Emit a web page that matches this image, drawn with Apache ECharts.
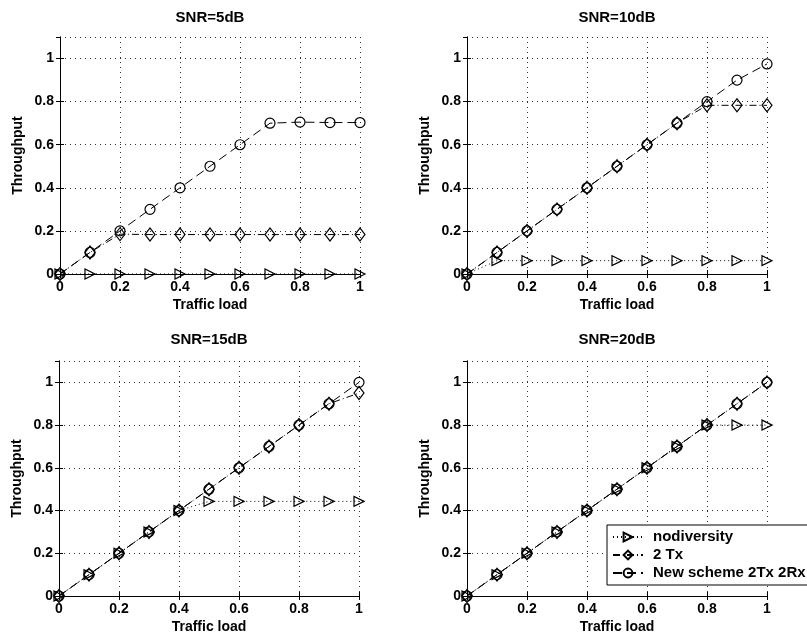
<!DOCTYPE html>
<html>
<head>
<meta charset="utf-8">
<script src="https://cdn.jsdelivr.net/npm/echarts@6/dist/echarts.min.js"></script>
<style>
  html, body { margin: 0; padding: 0; background: #fff; }
  #chart { width: 807px; height: 637px; }
</style>
</head>
<body>
<div id="chart"></div>
<script>
// Offered traffic load (x axis of every panel)
const loads = [0, 0.1, 0.2, 0.3, 0.4, 0.5, 0.6, 0.7, 0.8, 0.9, 1.0];

// Panel titles
const panelTitles = ['SNR=5dB', 'SNR=10dB', 'SNR=15dB', 'SNR=20dB'];

// Series names
const seriesNames = ['nodiversity', '2 Tx', 'New scheme 2Tx 2Rx'];

// Throughput, SNR = 5 dB
const snr5NoDiv = [0, 0, 0, 0, 0, 0, 0, 0, 0, 0, 0];
const snr5TwoTx = [0, 0.1, 0.185, 0.183, 0.183, 0.183, 0.183, 0.183, 0.183, 0.183, 0.183];
const snr5New   = [0, 0.1, 0.2, 0.3, 0.4, 0.5, 0.6, 0.7, 0.705, 0.703, 0.703];

// Throughput, SNR = 10 dB
const snr10NoDiv = [0, 0.062, 0.062, 0.062, 0.062, 0.062, 0.062, 0.062, 0.062, 0.062, 0.062];
const snr10TwoTx = [0, 0.1, 0.2, 0.3, 0.4, 0.5, 0.6, 0.7, 0.783, 0.783, 0.783];
const snr10New   = [0, 0.1, 0.2, 0.3, 0.4, 0.5, 0.6, 0.7, 0.8, 0.9, 0.975];

// Throughput, SNR = 15 dB
const snr15NoDiv = [0, 0.1, 0.2, 0.3, 0.4, 0.443, 0.443, 0.443, 0.443, 0.443, 0.443];
const snr15TwoTx = [0, 0.1, 0.2, 0.3, 0.4, 0.5, 0.6, 0.7, 0.8, 0.9, 0.95];
const snr15New   = [0, 0.1, 0.2, 0.3, 0.4, 0.5, 0.6, 0.7, 0.8, 0.9, 1.0];

// Throughput, SNR = 20 dB
const snr20NoDiv = [0, 0.1, 0.2, 0.3, 0.4, 0.5, 0.6, 0.7, 0.8, 0.8, 0.8];
const snr20TwoTx = [0, 0.1, 0.2, 0.3, 0.4, 0.5, 0.6, 0.7, 0.8, 0.9, 1.0];
const snr20New   = [0, 0.1, 0.2, 0.3, 0.4, 0.5, 0.6, 0.7, 0.8, 0.9, 1.0];

const panelData = [
  [snr5NoDiv, snr5TwoTx, snr5New],
  [snr10NoDiv, snr10TwoTx, snr10New],
  [snr15NoDiv, snr15TwoTx, snr15New],
  [snr20NoDiv, snr20TwoTx, snr20New]
];

const FONT = '"Liberation Sans", Arial, Helvetica, sans-serif';

// Plot-area rectangles of the 2x2 layout
const grids = [
  { left: 60,  top: 37,  width: 300, height: 237 },
  { left: 467, top: 37,  width: 300, height: 237 },
  { left: 59,  top: 361, width: 300, height: 235 },
  { left: 467, top: 361, width: 300, height: 235 }
];
const titleTops = [10, 10, 332, 332];

const lineBlack = { color: '#000', width: 1 };
const gridDots = { color: '#000', width: 1, type: [1, 4], opacity: 0.8 };
const tickInside = { show: true, inside: true, length: 4, lineStyle: lineBlack };

const xAxes = [], yAxes = [], titles = [], series = [];

grids.forEach((g, i) => {
  titles.push({
    text: panelTitles[i],
    left: g.left + g.width / 2,
    top: titleTops[i],
    padding: 0,
    textAlign: 'center',
    textStyle: { fontFamily: FONT, fontSize: 15, fontWeight: 'bold', color: '#000' }
  });

  // bottom x axis with labels and grid
  xAxes.push({
    type: 'value', gridIndex: i, min: 0, max: 1, interval: 0.2,
    name: 'Traffic load', nameLocation: 'middle', nameGap: 24,
    nameTextStyle: { fontFamily: FONT, fontSize: 14, fontWeight: 'bold', color: '#000' },
    axisLine: { show: true, lineStyle: lineBlack },
    axisTick: tickInside,
    axisLabel: { margin: 6, fontFamily: FONT, fontSize: 14, fontWeight: 'bold', color: '#000' },
    splitLine: { show: true, lineStyle: gridDots }
  });
  // top x axis: closing box edge with inner ticks
  xAxes.push({
    type: 'value', gridIndex: i, min: 0, max: 1, interval: 0.2, position: 'top',
    axisLine: { show: true, lineStyle: lineBlack },
    axisTick: tickInside,
    axisLabel: { show: false },
    splitLine: { show: false }
  });

  yAxes.push({
    type: 'value', gridIndex: i, min: 0, max: 1.1, interval: 0.2,
    name: 'Throughput', nameLocation: 'middle', nameGap: 35,
    nameTextStyle: { fontFamily: FONT, fontSize: 14, fontWeight: 'bold', color: '#000' },
    axisLine: { show: true, lineStyle: lineBlack },
    axisTick: tickInside,
    axisLabel: { margin: 6, showMaxLabel: false, fontFamily: FONT, fontSize: 14, fontWeight: 'bold', color: '#000' },
    splitLine: { show: true, lineStyle: gridDots }
  });
  yAxes.push({
    type: 'value', gridIndex: i, min: 0, max: 1.1, interval: 0.2, position: 'right',
    axisLine: { show: true, lineStyle: lineBlack },
    axisTick: tickInside,
    axisLabel: { show: false },
    splitLine: { show: false }
  });

  const styles = [
    { symbol: 'triangle', symbolRotate: -90, symbolSize: [10, 10], type: [1, 3] },
    { symbol: 'diamond', symbolRotate: 0, symbolSize: [10, 13], type: [7, 3, 1, 3] },
    { symbol: 'circle', symbolRotate: 0, symbolSize: 10, type: [9, 5] }
  ];

  panelData[i].forEach((vals, k) => {
    const st = styles[k];
    series.push({
      name: seriesNames[k],
      type: 'line',
      xAxisIndex: 2 * i,
      yAxisIndex: 2 * i,
      data: loads.map((x, j) => [x, vals[j]]),
      symbol: st.symbol,
      symbolRotate: st.symbolRotate,
      symbolSize: st.symbolSize,
      showAllSymbol: true,
      clip: false,
      animation: false,
      lineStyle: { color: '#000', width: 1, type: st.type },
      itemStyle: { color: 'rgba(255,255,255,0)', borderColor: '#000', borderWidth: 1.2 },
      z: 3 + k
    });
  });
});

const chart = echarts.init(document.getElementById('chart'), null, { renderer: 'canvas' });
chart.setOption({
  backgroundColor: '#fff',
  animation: false,
  title: titles,
  grid: grids,
  xAxis: xAxes,
  yAxis: yAxes,
  legend: {
    data: seriesNames,
    orient: 'vertical',
    left: 607,
    top: 525,
    itemWidth: 30,
    itemHeight: 11,
    itemGap: 0,
    padding: [3, 40, 3, 5],
    backgroundColor: '#fff',
    borderColor: '#000',
    borderWidth: 1,
    z: 10,
    textStyle: { fontFamily: FONT, fontSize: 15, lineHeight: 18, fontWeight: 'bold', color: '#000', padding: [0, 0, 0, 5] }
  },
  series: series
});
</script>
</body>
</html>
